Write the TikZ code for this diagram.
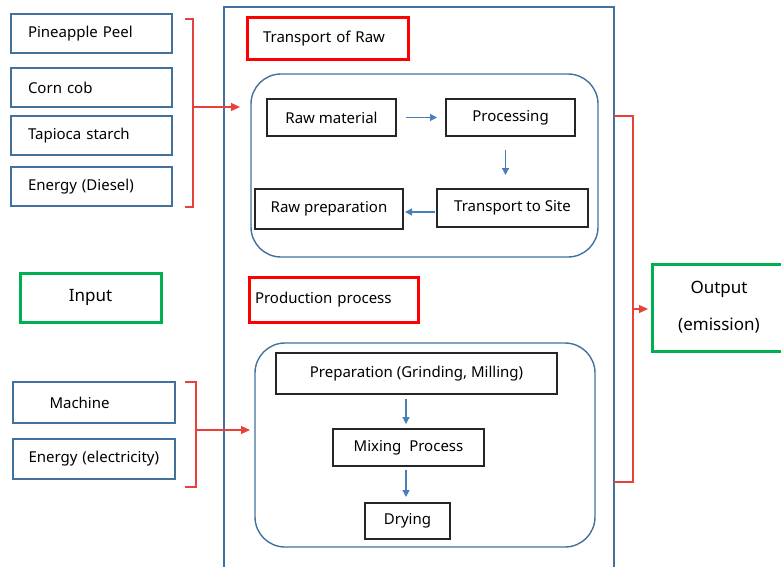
\documentclass[tikz,border=0pt]{standalone}
\usepackage{fontspec}
\setmainfont{Noto Sans}
\usepackage{tikz}
\usetikzlibrary{arrows.meta}
\definecolor{boxblue}{HTML}{41719C}
\definecolor{flowblue}{HTML}{4A7EBB}
\definecolor{brred}{HTML}{E8403A}
\definecolor{outgreen}{HTML}{00B050}
\tikzstyle{inbox}   = [rectangle, draw=boxblue, line width=1.4pt, anchor=north west, outer sep=0pt, minimum height=39pt, text width=127pt, inner xsep=17pt, align=left, font=\fontsize{15}{18}\selectfont]
\tikzstyle{stagebox} = [rectangle, draw=red, line width=3pt, anchor=north west, outer sep=0pt, align=left, font=\fontsize{15}{18}\selectfont]
\tikzstyle{zone}    = [rectangle, rounded corners=30pt, draw=boxblue, line width=1.4pt, outer sep=0pt]
\tikzstyle{stepbox} = [rectangle, draw=black!85, line width=1.2pt, outer sep=0pt, text centered, font=\fontsize{15}{18}\selectfont]
\tikzstyle{ioboxg}  = [rectangle, draw=outgreen, line width=3pt, outer sep=0pt, align=center, font=\fontsize{17}{37}\selectfont]
\tikzstyle{flow}    = [flowblue, line width=1.2pt, -{Triangle[length=7pt,width=7pt]}]
\tikzstyle{bracket} = [brred, line width=1.2pt]
\tikzstyle{redarrow} = [brred, line width=1.2pt, -{Triangle[length=9pt,width=8pt]}]

\begin{document}
\begin{tikzpicture}[x=1pt, y=-1pt]

    \useasboundingbox (0,0) rectangle (781,567);
    \clip (0,0) rectangle (781,567);

    % inputs
    \node (peel)    [inbox] at (11,14)  {Pineapple Peel};
    \node (corn)    [inbox] at (11,68)  {Corn cob};
    \node (tapioca) [inbox] at (11,116) {Tapioca starch};
    \node (diesel)  [inbox] at (11,167) {Energy (Diesel)};
    \node (input)   [ioboxg, minimum width=141pt, minimum height=49pt] at (90.5,297.5) {Input};
    \node (machine) [inbox, text width=141pt, inner xsep=10.5pt, minimum height=41pt] at (13,382) {\hspace*{26pt}Machine};
    \node (elec)    [inbox, text width=141pt, inner xsep=10.5pt, minimum height=40pt] at (13,439) {\hspace*{5pt}Energy (electricity)};

    % site frame
    \draw [boxblue, line width=1.4pt] (224,7) rectangle (614,600);

    \node (rawtitle)  [stagebox, minimum width=161pt, minimum height=42pt, text width=129pt, inner xsep=16pt] at (247,18) {Transport of Raw};
    \node (rawzone)   [zone, minimum width=347pt, minimum height=183pt] at (424.5,165.5) {};
    \node (rawmat)    [stepbox, minimum width=129pt, minimum height=37pt] at (331.5,117.5) {Raw material};
    \node (proc)      [stepbox, minimum width=129pt, minimum height=37pt] at (510.5,117.5) {Processing};
    \node (transite)  [stepbox, minimum width=151pt, minimum height=38pt] at (512.5,208)   {Transport to Site};
    \node (rawprep)   [stepbox, minimum width=148pt, minimum height=40pt] at (329,209)     {Raw preparation};

    \node (prodtitle) [stagebox, minimum width=169pt, minimum height=45pt, text width=157pt, inner xsep=6pt] at (249,277) {Production process};
    \node (prodzone)  [zone, minimum width=340pt, minimum height=204pt] at (425,445) {};
    \node (prep)      [stepbox, minimum width=281pt, minimum height=41pt] at (416.5,373.5) {Preparation (Grinding, Milling)};
    \node (mix)       [stepbox, minimum width=151pt, minimum height=37pt] at (408.5,447.5) {Mixing~ Process};
    \node (dry)       [stepbox, minimum width=85pt,  minimum height=36pt] at (407.5,521)   {Drying};

    \node (output)    [ioboxg, minimum width=134pt, minimum height=87pt] at (719,307.5) {Output\\(emission)};

    \draw [flow, shorten <=10pt, shorten >=9pt] (rawmat) -- (proc);
    \draw [flow, shorten <=14pt, shorten >=14pt] ([xshift=-5pt]proc.south) -- ([xshift=-5pt]proc.south |- transite.north);
    \draw [flow, shorten <=2pt, shorten >=2pt] ([yshift=-4pt]transite.west) -- ([yshift=-4pt]transite.west -| rawprep.east);
    \draw [flow, shorten <=5pt, shorten >=5pt] ([xshift=-2.5pt]mix.north |- prep.south) -- ([xshift=-2.5pt]mix.north);
    \draw [flow, shorten <=4pt, shorten >=6pt] ([xshift=-2.5pt]mix.south) -- ([xshift=-2.5pt]mix.south |- dry.north);

    % brackets
    \coordinate (brraw)  at (193,107);
    \coordinate (brprod) at (196,430);
    \coordinate (brout)  at (633,309);
    \draw [bracket] (185,19) -| (193,207) -- (185,207);
    \draw [bracket] (185,382) -| (196,487) -- (185,487);
    \draw [bracket] (614,116) -| (633,482) -- (614,482);
    \draw [redarrow, shorten >=11pt] (brraw) -- (brraw -| rawzone.west);
    \draw [redarrow, shorten >=5pt] (brprod) -- (brprod -| prodzone.west);
    \draw [redarrow, shorten >=4pt] (brout) -- (brout -| output.west);

\end{tikzpicture}
\end{document}
